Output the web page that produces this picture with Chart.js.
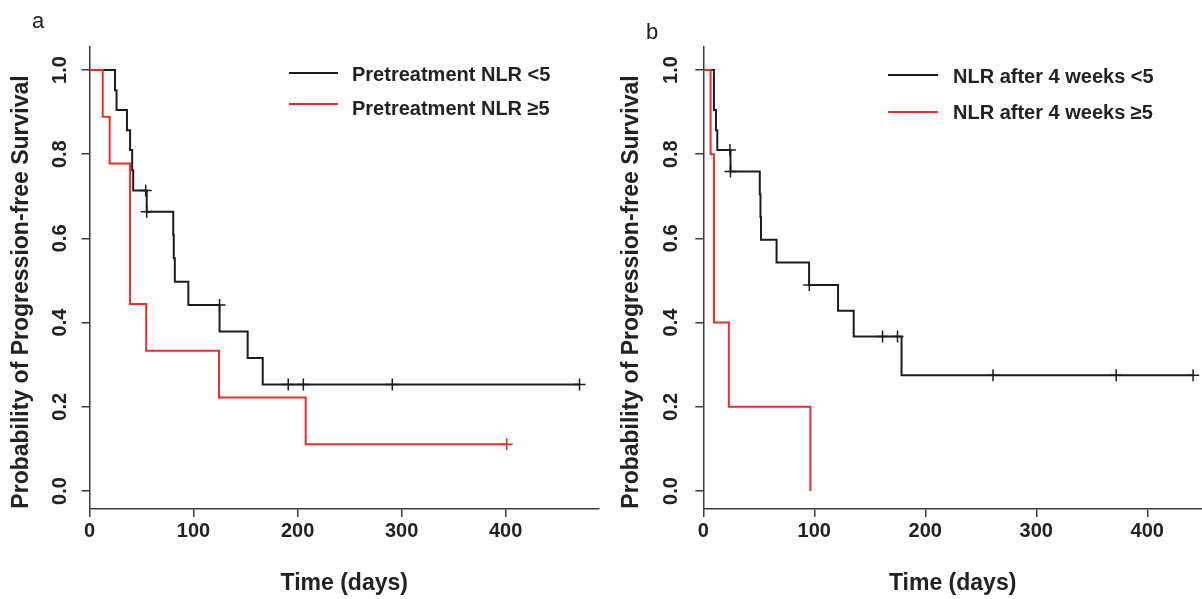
<!DOCTYPE html>
<html><head><meta charset="utf-8">
<script src="https://cdn.jsdelivr.net/npm/chart.js@4.4.1/dist/chart.umd.min.js"></script>
<style>
html,body{margin:0;padding:0;background:#fff;}
#wrap{position:relative;width:1202px;height:599px;overflow:hidden;background:#fff;}
canvas{position:absolute;top:0;}
#ca{left:0;} #cb{left:601px;}
</style></head><body>
<div id="wrap"><canvas id="ca" width="610" height="599"></canvas><canvas id="cb" width="610" height="599"></canvas></div>
<script>
// ---- data ----
const yTicks = [0, 0.2, 0.4, 0.6, 0.8, 1.0];
const xTicks = [0, 100, 200, 300, 400];

// Panel a: Pretreatment NLR <5 (step times, survival after step)
const aLowTimes = [0, 24.5, 26, 36, 39, 41, 42, 55, 80.5, 81, 82, 95, 125, 152, 166.5, 471];
const aLowSurv  = [1, 0.952, 0.905, 0.857, 0.810, 0.762, 0.714, 0.663, 0.608, 0.553, 0.497, 0.442, 0.379, 0.316, 0.253, 0.253];
const aLowCensT = [54, 55, 125, 191, 205.5, 291, 471];
const aLowCensS = [0.714, 0.663, 0.442, 0.253, 0.253, 0.253, 0.253];
// Panel a: Pretreatment NLR >=5
const aHighTimes = [0, 12.7, 19.4, 39, 54.5, 124.5, 207.8, 401];
const aHighSurv  = [1, 0.889, 0.778, 0.444, 0.333, 0.222, 0.111, 0.111];
const aHighCensT = [401];
const aHighCensS = [0.111];

// Panel b: NLR after 4 weeks <5
const bLowTimes = [0, 9.6, 11.4, 12.6, 24.5, 50.9, 51.5, 52, 66, 95.3, 121.4, 135.5, 178.6, 441.3];
const bLowSurv  = [1, 0.905, 0.857, 0.810, 0.759, 0.705, 0.651, 0.597, 0.543, 0.489, 0.428, 0.367, 0.275, 0.275];
const bLowCensT = [24, 24.5, 95.5, 161.5, 175, 261, 372, 441.3];
const bLowCensS = [0.810, 0.759, 0.489, 0.367, 0.367, 0.275, 0.275, 0.275];
// Panel b: NLR after 4 weeks >=5
const bHighTimes = [0, 6.6, 9.6, 23, 96.5];
const bHighSurv  = [1, 0.8, 0.4, 0.2, 0.0];

const legendA = ['Pretreatment NLR <5', 'Pretreatment NLR \u22655'];
const legendB = ['NLR after 4 weeks <5', 'NLR after 4 weeks \u22655'];

// ---- styling ----
const BLACK = '#1c1c1c';
const RED = '#ef2b25';
const AXIS = '#3a3a3a';
const FONT = '"Liberation Sans", Arial, Helvetica, sans-serif';

function pts(t, s) { return t.map((v, i) => ({x: v, y: s[i]})); }

function makeChart(id, o) {
  const textPlugin = {
    id: 'txt' + id,
    afterDraw(chart) {
      const ctx = chart.ctx;
      const ys = chart.scales.y;
      ctx.save();
      ctx.fillStyle = '#222';
      ctx.font = 'bold 20px ' + FONT;
      ctx.textAlign = 'center';
      ctx.textBaseline = 'middle';
      yTicks.forEach(v => {
        const py = ys.getPixelForValue(v);
        ctx.save();
        ctx.translate(o.yLabelX, py);
        ctx.rotate(-Math.PI / 2);
        ctx.fillText(v.toFixed(1), 0, 0);
        ctx.restore();
      });
      ctx.font = 'bold 23px ' + FONT;
      ctx.save();
      ctx.translate(o.yTitleX, o.yTitleY);
      ctx.rotate(-Math.PI / 2);
      ctx.fillText('Probability of Progression-free Survival', 0, 0);
      ctx.restore();
      ctx.font = '22px ' + FONT;
      ctx.textAlign = 'left';
      ctx.fillText(o.letter, o.letterX, o.letterY);
      ctx.font = 'bold 20px ' + FONT;
      o.legend.forEach((lab, i) => {
        const ly = o.legY[i];
        ctx.strokeStyle = i === 0 ? BLACK : RED;
        ctx.lineWidth = 2;
        ctx.beginPath();
        ctx.moveTo(o.legX1, ly);
        ctx.lineTo(o.legX2, ly);
        ctx.stroke();
        ctx.fillStyle = '#222';
        ctx.fillText(lab, o.legTX, o.legTY[i]);
      });
      ctx.restore();
    }
  };

  const datasets = [
    {data: pts(o.highT, o.highS), showLine: true, stepped: true, borderColor: RED, borderWidth: 2, pointRadius: 0, fill: false},
    {data: pts(o.lowT, o.lowS), showLine: true, stepped: true, borderColor: BLACK, borderWidth: 2, pointRadius: 0, fill: false},
  ];
  if (o.highCT.length) datasets.push({data: pts(o.highCT, o.highCS), showLine: false, pointStyle: 'cross', pointRadius: 6, borderWidth: 1.5, borderColor: RED, clip: false});
  datasets.push({data: pts(o.lowCT, o.lowCS), showLine: false, pointStyle: 'cross', pointRadius: 6, borderWidth: 1.5, borderColor: BLACK, clip: false});

  return new Chart(document.getElementById(id), {
    type: 'scatter',
    data: {datasets},
    options: {
      responsive: false, animation: false, devicePixelRatio: 1,
      layout: {padding: {left: 0, top: 47, right: o.padRight, bottom: 0}},
      plugins: {legend: {display: false}, tooltip: {enabled: false}},
      scales: {
        x: {
          type: 'linear', min: 0, max: o.xMax,
          afterBuildTicks: s => { s.ticks = xTicks.map(v => ({value: v})); },
          afterFit: s => { s.height = 90; },
          grid: {display: true, drawOnChartArea: false, drawTicks: true, tickLength: 8, color: AXIS, lineWidth: 1.5},
          border: {display: true, color: AXIS, width: 1.5},
          ticks: {color: '#222', font: {family: FONT, size: 20, weight: 'bold'}, padding: 2, maxRotation: 0, autoSkip: false, callback: v => String(v)},
          title: {display: true, text: 'Time (days)', color: '#222', font: {family: FONT, size: 23, weight: 'bold'}, padding: {top: 0, bottom: 2}}
        },
        y: {
          type: 'linear', min: -0.0428, max: 1.0546,
          afterBuildTicks: s => { s.ticks = yTicks.map(v => ({value: v})); },
          afterFit: s => { s.width = o.yWidth; },
          grid: {display: true, drawOnChartArea: false, drawTicks: true, tickLength: 8, color: AXIS, lineWidth: 1.5},
          border: {display: true, color: AXIS, width: 1.5},
          ticks: {display: false}
        }
      }
    },
    plugins: [textPlugin]
  });
}

makeChart('ca', {
  lowT: aLowTimes, lowS: aLowSurv, lowCT: aLowCensT, lowCS: aLowCensS,
  highT: aHighTimes, highS: aHighSurv, highCT: aHighCensT, highCS: aHighCensS,
  xMax: 489.7, padRight: 11, yWidth: 89.5,
  yLabelX: 60, yTitleX: 22, yTitleY: 292,
  letter: 'a', letterX: 32, letterY: 22,
  legend: legendA, legY: [73, 104], legTY: [75, 109], legX1: 289, legX2: 338, legTX: 352
});
makeChart('cb', {
  lowT: bLowTimes, lowS: bLowSurv, lowCT: bLowCensT, lowCS: bLowCensS,
  highT: bHighTimes, highS: bHighSurv, highCT: [], highCS: [],
  xMax: 449.3, padRight: 9, yWidth: 102.3,
  yLabelX: 70, yTitleX: 31, yTitleY: 292,
  letter: 'b', letterX: 45, letterY: 33,
  legend: legendB, legY: [75, 112], legTY: [77, 113], legX1: 287, legX2: 337, legTX: 352
});
</script>
</body></html>
